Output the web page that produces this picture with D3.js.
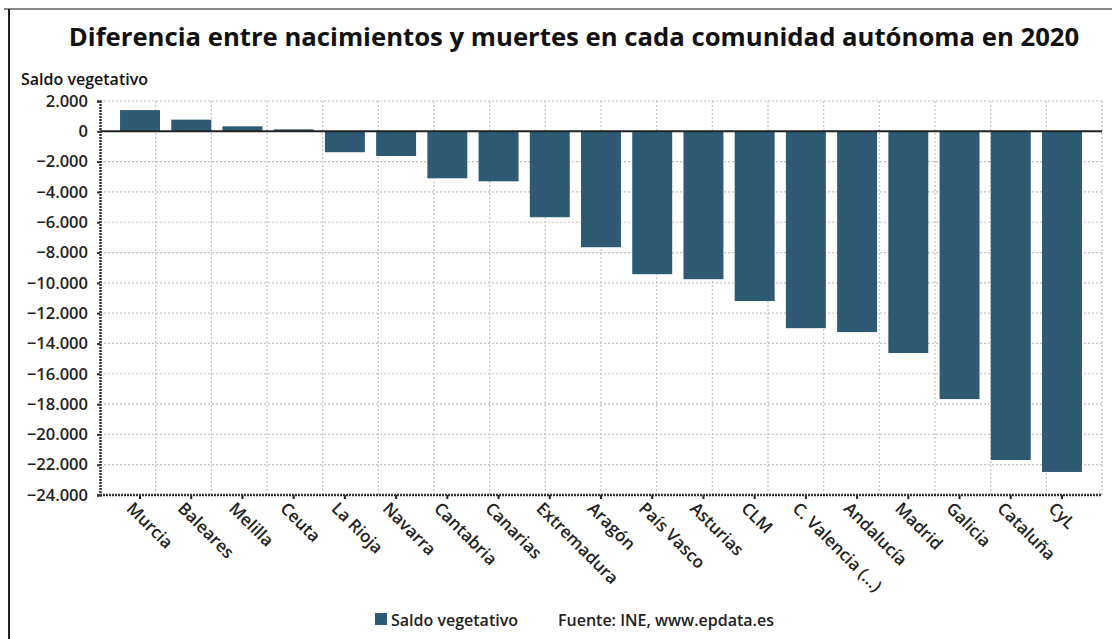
<!DOCTYPE html>
<html>
<head>
<meta charset="utf-8">
<script src="https://cdn.jsdelivr.net/npm/d3@7"></script>
<style>
  body { margin: 0; background: #fff; }
  svg { display: block; font-family: "Open Sans", sans-serif; }
</style>
</head>
<body>
<svg id="chart" width="1112" height="639"></svg>
<script>
var communities = ["Murcia", "Baleares", "Melilla", "Ceuta", "La Rioja", "Navarra", "Cantabria",
  "Canarias", "Extremadura", "Aragón", "País Vasco", "Asturias", "CLM", "C. Valencia (...)",
  "Andalucía", "Madrid", "Galicia", "Cataluña", "CyL"];
var saldo = [1400, 770, 330, 130, -1380, -1630, -3100, -3300, -5670, -7650, -9430, -9760,
  -11200, -12990, -13250, -14630, -17670, -21690, -22480];
var yTicks = [2000, 0, -2000, -4000, -6000, -8000, -10000, -12000, -14000, -16000,
  -18000, -20000, -22000, -24000];

var svg = d3.select('#chart');
var plotLeft = 100, plotRight = 1102, plotTop = 101, plotBottom = 495;
var barColor = '#2e5a73';

// frame
svg.append('line').attr('x1', 4).attr('x2', 1112).attr('y1', 9).attr('y2', 9)
   .attr('stroke', '#888').attr('stroke-width', 2);
svg.append('line').attr('x1', 9).attr('x2', 9).attr('y1', 9).attr('y2', 639)
   .attr('stroke', '#222').attr('stroke-width', 2);

// title
svg.append('text').attr('x', 574).attr('y', 46).attr('text-anchor', 'middle')
   .attr('font-size', 25.7).attr('font-weight', 700).attr('fill', '#111')
   .text('Diferencia entre nacimientos y muertes en cada comunidad autónoma en 2020');

svg.append('text').attr('x', 21).attr('y', 85)
   .attr('font-size', 16).attr('font-weight', 600).attr('fill', '#111')
   .text('Saldo vegetativo');

var y = d3.scaleLinear().domain([2000, -24000]).range([plotTop, plotBottom]);
var x = d3.scaleBand().domain(communities).range([114.4, 1087.6]).paddingInner(0.22).paddingOuter(0.11);
var gx = d3.scaleLinear().domain([0, 18]).range([plotLeft, plotRight]);

// grid
var grid = svg.append('g');
grid.selectAll('.hg').data(yTicks.filter(function(d){ return d !== 0 && d !== -24000; }))
   .enter().append('line')
   .attr('x1', plotLeft).attr('x2', plotRight)
   .attr('y1', function(d){ return y(d); }).attr('y2', function(d){ return y(d); })
   .attr('stroke', '#c9bfbf').attr('stroke-width', 1.2).attr('stroke-dasharray', '2,2');
grid.selectAll('.vg').data(d3.range(1, 19))
   .enter().append('line')
   .attr('x1', function(d){ return gx(d); }).attr('x2', function(d){ return gx(d); })
   .attr('y1', plotTop).attr('y2', plotBottom)
   .attr('stroke', '#c9bfbf').attr('stroke-width', 1.2).attr('stroke-dasharray', '2,2');

// bars
svg.selectAll('.bar').data(saldo).enter().append('rect')
   .attr('x', function(d, i){ return x(communities[i]); })
   .attr('width', x.bandwidth())
   .attr('y', function(d){ return y(Math.max(0, d)); })
   .attr('height', function(d){ return Math.abs(y(d) - y(0)); })
   .attr('fill', barColor);

// zero line
svg.append('line').attr('x1', plotLeft).attr('x2', plotRight).attr('y1', y(0)).attr('y2', y(0))
   .attr('stroke', '#222').attr('stroke-width', 2);

// y axis
var yAxis = svg.append('g').attr('transform', 'translate(' + plotLeft + ',0)')
   .call(d3.axisLeft(y).tickValues(yTicks).tickSize(3).tickPadding(9)
     .tickFormat(function(d){ return d3.format(',')(d).replace(/,/g, '.'); }));
yAxis.select('.domain').attr('stroke', '#333').attr('stroke-width', 2.5).attr('stroke-dasharray', '2,1');
yAxis.selectAll('.tick line').attr('stroke', '#333').attr('stroke-width', 2);
yAxis.selectAll('.tick text').attr('font-size', 16.5).attr('font-weight', 600).attr('fill', '#222')
   .attr('font-family', '"Open Sans", sans-serif');

// x axis
var xAxis = svg.append('g').attr('transform', 'translate(0,' + plotBottom + ')')
   .call(d3.axisBottom(x).tickSize(4).tickSizeOuter(0));
xAxis.select('.domain').remove();
svg.append('line').attr('x1', plotLeft).attr('x2', plotRight).attr('y1', plotBottom).attr('y2', plotBottom)
   .attr('stroke', '#333').attr('stroke-width', 2.5).attr('stroke-dasharray', '2,1');
xAxis.selectAll('.tick line').attr('stroke', '#222').attr('stroke-width', 2);
xAxis.selectAll('.tick text')
   .attr('font-size', 17).attr('font-weight', 600).attr('fill', '#222')
   .attr('font-family', '"Open Sans", sans-serif')
   .attr('text-anchor', 'start')
   .attr('transform', 'translate(-6,6) rotate(45)')
   .attr('x', 0).attr('y', 0).attr('dy', '0.7em');

// legend
var leg = svg.append('g');
leg.append('rect').attr('x', 375).attr('y', 613).attr('width', 12).attr('height', 12).attr('fill', barColor);
leg.append('text').attr('x', 391).attr('y', 626).attr('font-size', 16).attr('font-weight', 600)
   .attr('fill', '#222').text('Saldo vegetativo');
leg.append('text').attr('x', 558).attr('y', 626).attr('font-size', 16).attr('font-weight', 600)
   .attr('fill', '#222').text('Fuente: INE, www.epdata.es');
</script>
</body>
</html>
